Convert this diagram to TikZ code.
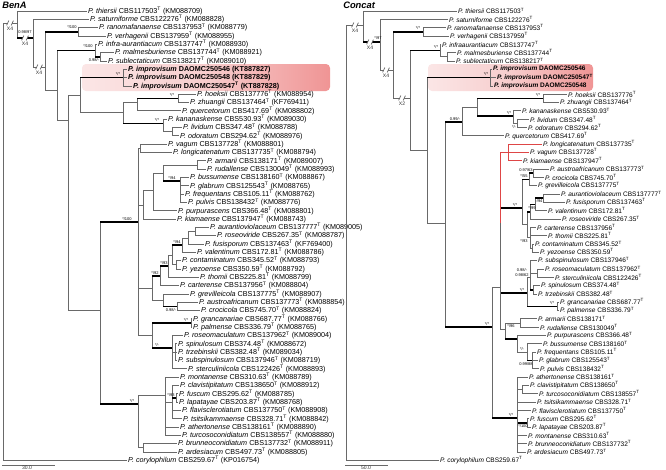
\documentclass[tikz,border=0pt]{standalone}
\usepackage{fontspec}
\setmainfont{Liberation Sans}
\definecolor{branchgray}{RGB}{105,105,105}
\definecolor{cladered}{RGB}{222,70,70}
\definecolor{boxmid}{RGB}{247,205,205}
\definecolor{boxred}{RGB}{232,92,92}
\pgfdeclarehorizontalshading{pinkfade}{100bp}{color(0bp)=(white); color(50bp)=(boxmid); color(100bp)=(boxred)}
\newcommand{\pen}[1]{\textit{P. #1}}
\newcommand{\typ}{\textsuperscript{T}}
\newcommand{\lf}[4]{\node[leaf] (#1) at (#2-1.2,{11+(#3-1)*8.32}) {#4};}
\newcommand{\lfc}[4]{\node[leaf, leafc] (#1) at (#2-1.2,{11+(#3-1)*8.32}) {#4};}
\newcommand{\lk}[2]{\draw[br] (#1) |- (#2);}
\newcommand{\slk}[2]{\draw[br] (#1) |- (#2); \draw[sup] (#1 |- #2) -- (#2);}
\newcommand{\rlk}[2]{\draw[redbr] (#1) |- (#2);}
\newcommand{\brk}[3]{\fill[white] (#1-2.4,#2-3) rectangle (#1+2.4,#2+3);
  \draw[br] (#1-3.4,#2+2.4) -- (#1-1.2,#2-2.4) (#1+1.2,#2+2.4) -- (#1+3.4,#2-2.4);
  \node[xlab] at (#1,#2+5.6) {#3};}

\begin{document}
\begin{tikzpicture}[x=0.75pt, y=-0.75pt, line cap=butt,
  br/.style={draw=branchgray, line width=0.55pt},
  redbr/.style={draw=cladered, line width=0.55pt},
  sup/.style={draw=black, line width=1.25pt},
  leaf/.style={anchor=west, inner xsep=0.8pt, inner ysep=0pt, font=\fontsize{5.4}{5.8}\selectfont},
  leafc/.style={font=\fontsize{4.9}{5.4}\selectfont},
  bs/.style={font=\fontsize{3}{3.2}\selectfont, inner sep=0pt},
  xlab/.style={font=\fontsize{3.8}{4}\selectfont, inner sep=0pt, text=black!80},
  treetitle/.style={anchor=west, inner sep=0pt, font=\fontsize{7}{8}\selectfont\bfseries\itshape}]

\useasboundingbox (0,0) rectangle (666,469);

% Highlight of the new species
\shade[shading=pinkfade, rounded corners=3pt] (82,64) rectangle (330,91);
\shade[shading=pinkfade, rounded corners=3pt] (428,64) rectangle (593,91);

% ---------------- BenA ----------------
\node[treetitle] (tBenA) at (2,5) {BenA};

\lf{b-thiersii}{88}{1}{\pen{thiersii} CBS117503\typ{} (KM088709)}
\lf{b-saturniforme}{90}{2}{\pen{saturniforme} CBS122276\typ{} (KM088828)}
\lf{b-ranomafanaense}{99}{3}{\pen{ranomafanaense} CBS137953\typ{} (KM088779)}
\lf{b-verhagenii}{107}{4}{\pen{verhagenii} CBS137959\typ{} (KM088955)}
\lf{b-infra}{98}{5}{\pen{infra-aurantiacum} CBS137747\typ{} (KM088930)}
\lf{b-malmesburiense}{115}{6}{\pen{malmesburiense} CBS137744\typ{} (KM088921)}
\lf{b-sublectaticum}{108}{7}{\pen{sublectaticum} CBS138217\typ{} (KM089010)}
\lf{b-imp546}{128}{8}{\textbf{\pen{improvisum} DAOMC250546 (KT887827)}}
\lf{b-imp548}{128}{9}{\textbf{\pen{improvisum} DAOMC250548 (KT887829)}}
\lf{b-imp547}{133}{10}{\textbf{\pen{improvisum} DAOMC250547\typ{} (KT887828)}}
\lf{b-hoeksii}{197}{11}{\pen{hoeksii} CBS137776\typ{} (KM088954)}
\lf{b-zhuangii}{190}{12}{\pen{zhuangii} CBS137464\typ{} (KF769411)}
\lf{b-quercetorum}{182}{13}{\pen{quercetorum} CBS417.69\typ{} (KM088802)}
\lf{b-kananaskense}{168}{14}{\pen{kananaskense} CBS530.93\typ{} (KM089030)}
\lf{b-lividum}{183}{15}{\pen{lividum} CBS347.48\typ{} (KM088788)}
\lf{b-odoratum}{180}{16}{\pen{odoratum} CBS294.62\typ{} (KM088976)}
\lf{b-vagum}{168}{17}{\pen{vagum} CBS137728\typ{} (KM088801)}
\lf{b-longicatenatum}{173}{18}{\pen{longicatenatum} CBS137735\typ{} (KM088794)}
\lf{b-armarii}{207}{19}{\pen{armarii} CBS138171\typ{} (KM089007)}
\lf{b-rudallense}{207}{20}{\pen{rudallense} CBS130049\typ{} (KM088993)}
\lf{b-bussumense}{190}{21}{\pen{bussumense} CBS138160\typ{} (KM088867)}
\lf{b-glabrum}{190}{22}{\pen{glabrum} CBS125543\typ{} (KM088765)}
\lf{b-frequentans}{185}{23}{\pen{frequentans} CBS105.11\typ{} (KM088762)}
\lf{b-pulvis}{188}{24}{\pen{pulvis} CBS138432\typ{} (KM088776)}
\lf{b-purpurascens}{178}{25}{\pen{purpurascens} CBS366.48\typ{} (KM088801)}
\lf{b-kiamaense}{177}{26}{\pen{kiamaense} CBS137947\typ{} (KM088743)}
\lf{b-aurantioviolaceum}{210}{27}{\pen{aurantioviolaceum} CBS137777\typ{} (KM089005)}
\lf{b-roseoviride}{217}{28}{\pen{roseoviride} CBS267.35\typ{} (KM088787)}
\lf{b-fusisporum}{205}{29}{\pen{fusisporum} CBS137463\typ{} (KF769400)}
\lf{b-valentinum}{197}{30}{\pen{valentinum} CBS172.81\typ{} (KM088786)}
\lf{b-contaminatum}{182}{31}{\pen{contaminatum} CBS345.52\typ{} (KM088793)}
\lf{b-yezoense}{182}{32}{\pen{yezoense} CBS350.59\typ{} (KM088792)}
\lf{b-thomii}{200}{33}{\pen{thomii} CBS225.81\typ{} (KM088799)}
\lf{b-carterense}{180}{34}{\pen{carterense} CBS137956\typ{} (KM088804)}
\lf{b-grevilleicola}{190}{35}{\pen{grevilleicola} CBS137775\typ{} (KM088907)}
\lf{b-austroafricanum}{199}{36}{\pen{austroafricanum} CBS137773\typ{} (KM088854)}
\lf{b-crocicola}{201}{37}{\pen{crocicola} CBS745.70\typ{} (KM088824)}
\lf{b-grancanariae}{193}{38}{\pen{grancanariae} CBS687.77\typ{} (KM088766)}
\lf{b-palmense}{193}{39}{\pen{palmense} CBS336.79\typ{} (KM088765)}
\lf{b-roseomaculatum}{184}{40}{\pen{roseomaculatum} CBS137962\typ{} (KM089004)}
\lf{b-spinulosum}{178}{41}{\pen{spinulosum} CBS374.48\typ{} (KM088672)}
\lf{b-trzebinskii}{178}{42}{\pen{trzebinskii} CBS382.48\typ{} (KM089034)}
\lf{b-subspinulosum}{178}{43}{\pen{subspinulosum} CBS137946\typ{} (KM088719)}
\lf{b-sterculiniicola}{188}{44}{\pen{sterculiniicola} CBS122426\typ{} (KM088893)}
\lf{b-montanense}{180}{45}{\pen{montanense} CBS310.63\typ{} (KM088789)}
\lf{b-clavistipitatum}{180}{46}{\pen{clavistipitatum} CBS138650\typ{} (KM088912)}
\lf{b-fuscum}{179}{47}{\pen{fuscum} CBS295.62\typ{} (KM088785)}
\lf{b-lapatayae}{179}{48}{\pen{lapatayae} CBS203.87\typ{} (KM088768)}
\lf{b-flavisclerotiatum}{182}{49}{\pen{flavisclerotiatum} CBS137750\typ{} (KM088908)}
\lf{b-tsitsikammaense}{183}{50}{\pen{tsitsikammaense} CBS328.71\typ{} (KM088842)}
\lf{b-athertonense}{180}{51}{\pen{athertonense} CBS138161\typ{} (KM088890)}
\lf{b-turcosoconidiatum}{182}{52}{\pen{turcosoconidiatum} CBS138557\typ{} (KM088880)}
\lf{b-brunneoconidiatum}{178}{53}{\pen{brunneoconidiatum} CBS137732\typ{} (KM088911)}
\lf{b-ardesiacum}{178}{54}{\pen{ardesiacum} CBS497.73\typ{} (KM088805)}
\lf{b-corylophilum}{128}{55}{\pen{corylophilum} CBS259.67\typ{} (KP016754)}

% internal nodes
\coordinate (bR) at (3,23);
\coordinate (bN1) at (17,23);
\coordinate (bN2) at (33,38);
\coordinate (bN3) at (45,67);
\coordinate (bA) at (78,31.8);
\coordinate (bN4) at (57,90);
\coordinate (bIN) at (95,50.5);
\coordinate (bMS) at (100,56.8);
\coordinate (bN5) at (68,120);
\coordinate (bN5a) at (80,95);
\coordinate (bIMP) at (123,77.6);
\coordinate (bK1) at (123,112);
\coordinate (bHQ) at (137,102);
\coordinate (bHZ) at (178,98.4);
\coordinate (bKL) at (163,123.5);
\coordinate (bLO) at (172,131.7);
\coordinate (bN6) at (100,310);
\coordinate (bB1) at (138,222);
\coordinate (bC0) at (140,148.3);
\coordinate (bP3) at (143,205);
\coordinate (bP2) at (153,190);
\coordinate (bP1) at (163,173);
\coordinate (bAR) at (197,165);
\coordinate (bBG) at (180,181);
\coordinate (bDG) at (152,288);
\coordinate (bDC) at (160,276);
\coordinate (bDT) at (168,266);
\coordinate (bDD) at (172,255);
\coordinate (bAFV) at (182,245);
\coordinate (bAF) at (188,238);
\coordinate (bAV) at (195,231.5);
\coordinate (bCY) at (176,264.8);
\coordinate (bGC) at (163,300);
\coordinate (bAC) at (177,306.4);
\coordinate (bE) at (152,335);
\coordinate (bGP) at (191,323);
\coordinate (bRS) at (172,348);
\coordinate (bST) at (175,352.1);
\coordinate (bB2) at (138,404);
\coordinate (bM1) at (165,395);
\coordinate (bM2) at (172,402);
\coordinate (bFL) at (176,397.9);
\coordinate (bBA) at (143,447.8);

% branches
\draw[br] (bR) -- (bN1);
\lk{bR}{b-corylophilum.west}
\lk{bN1}{b-thiersii.west}
\slk{bN1}{bN2}
\lk{bN2}{b-saturniforme.west}
\lk{bN2}{bN3}
\slk{bN3}{bA}
\lk{bA}{b-ranomafanaense.west}
\lk{bA}{b-verhagenii.west}
\lk{bN3}{bN4}
\slk{bN4}{bIN}
\lk{bIN}{b-infra.west}
\slk{bIN}{bMS}
\lk{bMS}{b-malmesburiense.west}
\lk{bMS}{b-sublectaticum.west}
\lk{bN4}{bN5}
\lk{bN5}{bN5a}
\slk{bN5a}{bIMP}
\lk{bIMP}{b-imp546.west}
\lk{bIMP}{b-imp548.west}
\lk{bIMP}{b-imp547.west}
\lk{bN5a}{bK1}
\lk{bK1}{bHQ}
\slk{bHQ}{bHZ}
\lk{bHZ}{b-hoeksii.west}
\lk{bHZ}{b-zhuangii.west}
\lk{bHQ}{b-quercetorum.west}
\slk{bK1}{bKL}
\lk{bKL}{b-kananaskense.west}
\lk{bKL}{bLO}
\lk{bLO}{b-lividum.west}
\lk{bLO}{b-odoratum.west}
\lk{bN5}{bN6}
\slk{bN6}{bB1}
\lk{bB1}{bC0}
\lk{bC0}{b-vagum.west}
\lk{bC0}{b-longicatenatum.west}
\lk{bB1}{bP3}
\lk{bP3}{bP2}
\lk{bP3}{b-kiamaense.west}
\lk{bP2}{bP1}
\lk{bP2}{b-purpurascens.west}
\lk{bP1}{bAR}
\lk{bAR}{b-armarii.west}
\lk{bAR}{b-rudallense.west}
\slk{bP1}{bBG}
\lk{bBG}{b-bussumense.west}
\lk{bBG}{b-glabrum.west}
\lk{bBG}{b-frequentans.west}
\lk{bBG}{b-pulvis.west}
\lk{bB1}{bDG}
\slk{bDG}{bDC}
\lk{bDC}{b-carterense.west}
\slk{bDC}{bDT}
\lk{bDT}{b-thomii.west}
\lk{bDT}{bDD}
\slk{bDD}{bAFV}
\lk{bAFV}{b-valentinum.west}
\lk{bAFV}{bAF}
\lk{bAF}{b-fusisporum.west}
\lk{bAF}{bAV}
\lk{bAV}{b-aurantioviolaceum.west}
\lk{bAV}{b-roseoviride.west}
\lk{bDD}{bCY}
\lk{bCY}{b-contaminatum.west}
\lk{bCY}{b-yezoense.west}
\lk{bDG}{bGC}
\lk{bGC}{b-grevilleicola.west}
\slk{bGC}{bAC}
\lk{bAC}{b-austroafricanum.west}
\lk{bAC}{b-crocicola.west}
\lk{bB1}{bE}
\slk{bE}{bGP}
\lk{bGP}{b-grancanariae.west}
\lk{bGP}{b-palmense.west}
\slk{bE}{bRS}
\lk{bRS}{b-roseomaculatum.west}
\lk{bRS}{bST}
\lk{bST}{b-spinulosum.west}
\lk{bST}{b-trzebinskii.west}
\lk{bST}{b-subspinulosum.west}
\lk{bRS}{b-sterculiniicola.west}
\slk{bN6}{bB2}
\lk{bB2}{bM1}
\lk{bM1}{b-montanense.west}
\lk{bM1}{bM2}
\lk{bM2}{b-clavistipitatum.west}
\slk{bM2}{bFL}
\lk{bFL}{b-fuscum.west}
\lk{bFL}{b-lapatayae.west}
\lk{bM2}{b-flavisclerotiatum.west}
\lk{bM2}{b-tsitsikammaense.west}
\lk{bM1}{b-athertonense.west}
\lk{bM1}{b-turcosoconidiatum.west}
\lk{bB2}{bBA}
\lk{bBA}{b-brunneoconidiatum.west}
\lk{bBA}{b-ardesiacum.west}

% long branches cut short
\brk{10}{23}{X4}
\brk{25}{38}{X4}
\brk{39}{67}{X4}

% support values
\node[bs] at (25,32.5) {0.98/97};
\node[bs] at (72,27.5) {*/100};
\node[bs] at (88,46) {*/100};
\node[bs] at (94,60.5) {0.98/-};
\node[bs] at (118,74) {*/*};
\node[bs] at (172,95) {*/*};
\node[bs] at (157,120) {*/*};
\node[bs] at (127,219) {*/100};
\node[bs] at (172,178) {*/94};
\node[bs] at (177,242) {*/94};
\node[bs] at (164,263) {*/93};
\node[bs] at (155,273) {*/92};
\node[bs] at (171,310) {0.98/-};
\node[bs] at (186,320) {*/*};
\node[bs] at (157,345) {*/-};
\node[bs] at (171,395) {*/93};
\node[bs] at (132,401) {*/*};

% scale bar
\draw[br] (2,465) -- (55,465);
\node[xlab] (bScale) at (27,467.5) {30.0};

% ---------------- Concat ----------------
\node[treetitle] (tConcat) at (343,5) {Concat};

\lfc{c-thiersii}{458}{1}{\pen{thiersii} CBS117503\typ}
\lfc{c-saturniforme}{449}{2}{\pen{saturniforme} CBS122276\typ}
\lfc{c-ranomafanaense}{447}{3}{\pen{ranomafanaense} CBS137953\typ}
\lfc{c-verhagenii}{450}{4}{\pen{verhagenii} CBS137959\typ}
\lfc{c-infra}{442}{5}{\pen{infraaurantiacum} CBS137747\typ}
\lfc{c-malmesburiense}{457}{6}{\pen{malmesburiense} CBS137744\typ}
\lfc{c-sublectaticum}{456}{7}{\pen{sublectaticum} CBS138217\typ}
\lfc{c-imp546}{493}{8}{\textbf{\pen{improvisum} DAOMC250546}}
\lfc{c-imp547}{497}{9}{\textbf{\pen{improvisum} DAOMC250547\typ}}
\lfc{c-imp548}{494}{10}{\textbf{\pen{improvisum} DAOMC250548}}
\lfc{c-hoeksii}{568}{11}{\pen{hoeksii} CBS137776\typ}
\lfc{c-zhuangii}{560}{12}{\pen{zhuangii} CBS137464\typ}
\lfc{c-kananaskense}{522}{13}{\pen{kananaskense} CBS530.93\typ}
\lfc{c-lividum}{530}{14}{\pen{lividum} CBS347.48\typ}
\lfc{c-odoratum}{528}{15}{\pen{odoratum} CBS294.62\typ}
\lfc{c-quercetorum}{505}{16}{\pen{quercetorum} CBS417.69\typ}
\lfc{c-longicatenatum}{543}{17}{\pen{longicatenatum} CBS137735\typ}
\lfc{c-vagum}{530}{18}{\pen{vagum} CBS137728\typ}
\lfc{c-kiamaense}{523}{19}{\pen{kiamaense} CBS137947\typ}
\lfc{c-austroafricanum}{550}{20}{\pen{austroafricanum} CBS137773\typ}
\lfc{c-crocicola}{545}{21}{\pen{crocicola} CBS745.70\typ}
\lfc{c-grevilleicola}{538}{22}{\pen{grevilleicola} CBS137775\typ}
\lfc{c-aurantioviolaceum}{561}{23}{\pen{aurantioviolaceum} CBS137777\typ}
\lfc{c-fusisporum}{566}{24}{\pen{fusisporum} CBS137463\typ}
\lfc{c-valentinum}{548}{25}{\pen{valentinum} CBS172.81\typ}
\lfc{c-roseoviride}{562}{26}{\pen{roseoviride} CBS267.35\typ}
\lfc{c-carterense}{537}{27}{\pen{carterense} CBS137956\typ}
\lfc{c-thomii}{548}{28}{\pen{thomii} CBS225.81\typ}
\lfc{c-contaminatum}{535}{29}{\pen{contaminatum} CBS345.52\typ}
\lfc{c-yezoense}{540}{30}{\pen{yezoense} CBS350.59\typ}
\lfc{c-subspinulosum}{538}{31}{\pen{subspinulosum} CBS137946\typ}
\lfc{c-roseomaculatum}{545}{32}{\pen{roseomaculatum} CBS137962\typ}
\lfc{c-sterculiniicola}{555}{33}{\pen{sterculiniicola} CBS122426\typ}
\lfc{c-spinulosum}{541}{34}{\pen{spinulosum} CBS374.48\typ}
\lfc{c-trzebinskii}{538}{35}{\pen{trzebinskii} CBS382.48\typ}
\lfc{c-grancanariae}{560}{36}{\pen{grancanariae} CBS687.77\typ}
\lfc{c-palmense}{560}{37}{\pen{palmense} CBS336.79\typ}
\lfc{c-armarii}{538}{38}{\pen{armarii} CBS138171\typ}
\lfc{c-rudallense}{540}{39}{\pen{rudallense} CBS130049\typ}
\lfc{c-purpurascens}{547}{40}{\pen{purpurascens} CBS366.48\typ}
\lfc{c-bussumense}{543}{41}{\pen{bussumense} CBS138160\typ}
\lfc{c-frequentans}{537}{42}{\pen{frequentans} CBS105.11\typ}
\lfc{c-glabrum}{539}{43}{\pen{glabrum} CBS125543\typ}
\lfc{c-pulvis}{540}{44}{\pen{pulvis} CBS138432\typ}
\lfc{c-athertonense}{529}{45}{\pen{athertonense} CBS138161\typ}
\lfc{c-clavistipitatum}{530}{46}{\pen{clavistipitatum} CBS138650\typ}
\lfc{c-turcosoconidiatum}{539}{47}{\pen{turcosoconidiatum} CBS138557\typ}
\lfc{c-tsitsikammaense}{537}{48}{\pen{tsitsikammaense} CBS328.71\typ}
\lfc{c-flavisclerotiatum}{532}{49}{\pen{flavisclerotiatum} CBS137750\typ}
\lfc{c-fuscum}{530}{50}{\pen{fuscum} CBS295.62\typ}
\lfc{c-lapatayae}{532}{51}{\pen{lapatayae} CBS203.87\typ}
\lfc{c-montanense}{528}{52}{\pen{montanense} CBS310.63\typ}
\lfc{c-brunneoconidiatum}{528}{53}{\pen{brunneoconidiatum} CBS137732\typ}
\lfc{c-ardesiacum}{527}{54}{\pen{ardesiacum} CBS497.73\typ}
\lfc{c-corylophilum}{440}{55}{\pen{corylophilum} CBS259.67\typ}

% internal nodes
\coordinate (cR) at (346,25);
\coordinate (cN1) at (363,25);
\coordinate (cN2) at (380,42);
\coordinate (cN3) at (393,70);
\coordinate (cA) at (423,31.8);
\coordinate (cN4) at (410,98);
\coordinate (cIN) at (440,50.5);
\coordinate (cMS) at (447,56.8);
\coordinate (cN5) at (427,150);
\coordinate (cIMP) at (490,77.6);
\coordinate (cN7) at (445,223);
\coordinate (cHKQ) at (462,122);
\coordinate (cHK) at (477,107);
\coordinate (cHZ) at (543,98.4);
\coordinate (cKL) at (513,116);
\coordinate (cLO) at (517,123.3);
\coordinate (cN8) at (492,327);
\coordinate (cX) at (500,287);
\coordinate (cXr) at (500,223);
\coordinate (cLVK) at (508,152.4);
\coordinate (cDD) at (522,208);
\coordinate (cD1) at (529,179.5);
\coordinate (cAC) at (533,173.3);
\coordinate (cD2) at (527,224.6);
\coordinate (cAFVR) at (530,211.7);
\coordinate (cAFV) at (535,204.5);
\coordinate (cAFu) at (543,198.2);
\coordinate (cCT) at (530,237.5);
\coordinate (cCY) at (532,248.2);
\coordinate (cE1) at (527,293);
\coordinate (cES) at (530,277);
\coordinate (cRS) at (537,273);
\coordinate (cST) at (533,289.7);
\coordinate (cGP) at (557,306.4);
\coordinate (cAP) at (505,329);
\coordinate (cAR) at (520,323);
\coordinate (cPB) at (517,339);
\coordinate (cBF) at (527,352);
\coordinate (cFGP) at (532,360.4);
\coordinate (cAA) at (517,418);
\coordinate (cCTT) at (522,389.5);
\coordinate (cFL) at (527,422.9);

% branches
\draw[br] (cR) -- (cN1);
\lk{cR}{c-corylophilum.west}
\lk{cN1}{c-thiersii.west}
\slk{cN1}{cN2}
\lk{cN2}{c-saturniforme.west}
\lk{cN2}{cN3}
\slk{cN3}{cA}
\lk{cA}{c-ranomafanaense.west}
\lk{cA}{c-verhagenii.west}
\lk{cN3}{cN4}
\slk{cN4}{cIN}
\lk{cIN}{c-infra.west}
\lk{cIN}{cMS}
\lk{cMS}{c-malmesburiense.west}
\lk{cMS}{c-sublectaticum.west}
\lk{cN4}{cN5}
\slk{cN5}{cIMP}
\lk{cIMP}{c-imp546.west}
\lk{cIMP}{c-imp547.west}
\lk{cIMP}{c-imp548.west}
\lk{cN5}{cN7}
\slk{cN7}{cHKQ}
\lk{cHKQ}{cHK}
\slk{cHK}{cHZ}
\lk{cHZ}{c-hoeksii.west}
\lk{cHZ}{c-zhuangii.west}
\slk{cHK}{cKL}
\lk{cKL}{c-kananaskense.west}
\lk{cKL}{cLO}
\lk{cLO}{c-lividum.west}
\lk{cLO}{c-odoratum.west}
\lk{cHKQ}{c-quercetorum.west}
\slk{cN7}{cN8}
\lk{cN8}{cX}
\slk{cX}{cDD}
\slk{cDD}{cD1}
\lk{cD1}{c-grevilleicola.west}
\slk{cD1}{cAC}
\lk{cAC}{c-austroafricanum.west}
\lk{cAC}{c-crocicola.west}
\lk{cDD}{cD2}
\slk{cD2}{cAFVR}
\slk{cAFVR}{cAFV}
\lk{cAFVR}{c-roseoviride.west}
\slk{cAFV}{cAFu}
\lk{cAFV}{c-valentinum.west}
\lk{cAFu}{c-aurantioviolaceum.west}
\lk{cAFu}{c-fusisporum.west}
\lk{cD2}{cCT}
\lk{cCT}{c-carterense.west}
\lk{cCT}{c-thomii.west}
\lk{cCT}{cCY}
\lk{cCY}{c-contaminatum.west}
\lk{cCY}{c-yezoense.west}
\slk{cX}{cE1}
\lk{cE1}{cES}
\lk{cES}{c-subspinulosum.west}
\lk{cES}{cRS}
\lk{cRS}{c-roseomaculatum.west}
\lk{cRS}{c-sterculiniicola.west}
\slk{cES}{cST}
\lk{cST}{c-spinulosum.west}
\lk{cST}{c-trzebinskii.west}
\slk{cE1}{cGP}
\lk{cGP}{c-grancanariae.west}
\lk{cGP}{c-palmense.west}
\lk{cX}{cAP}
\lk{cAP}{cAR}
\lk{cAR}{c-armarii.west}
\lk{cAR}{c-rudallense.west}
\slk{cAP}{cPB}
\lk{cPB}{c-purpurascens.west}
\lk{cPB}{cBF}
\lk{cBF}{c-bussumense.west}
\slk{cBF}{cFGP}
\lk{cFGP}{c-frequentans.west}
\lk{cFGP}{c-glabrum.west}
\lk{cFGP}{c-pulvis.west}
\slk{cN8}{cAA}
\lk{cAA}{c-athertonense.west}
\lk{cAA}{cCTT}
\lk{cCTT}{c-clavistipitatum.west}
\lk{cCTT}{c-turcosoconidiatum.west}
\lk{cAA}{c-tsitsikammaense.west}
\lk{cAA}{c-flavisclerotiatum.west}
\slk{cAA}{cFL}
\lk{cFL}{c-fuscum.west}
\lk{cFL}{c-lapatayae.west}
\lk{cAA}{c-montanense.west}
\lk{cAA}{c-brunneoconidiatum.west}
\lk{cAA}{c-ardesiacum.west}

% lineage in red
\draw[br] (cX) -- (cXr);
\rlk{cXr}{cLVK}
\rlk{cLVK}{c-longicatenatum.west}
\rlk{cLVK}{c-vagum.west}
\rlk{cLVK}{c-kiamaense.west}

% long branches cut short
\brk{355}{25}{X4}
\brk{370}{42}{X4}
\brk{386}{70}{X4}
\brk{402}{98}{X2}

% support values
\node[bs] at (378,38) {*/97};
\node[bs] at (418,28.5) {*/*};
\node[bs] at (436,47) {*/*};
\node[bs] at (486,74) {*/*};
\node[bs] at (538,95) {*/*};
\node[bs] at (509,113) {*/*};
\node[bs] at (514,127) {*/-};
\node[bs] at (455,119) {0.99/-};
\node[bs] at (526,170) {0.97/63};
\node[bs] at (524,176.5) {*/55};
\node[bs] at (515,205) {*/*};
\node[bs] at (539,201) {-/94};
\node[bs] at (532,208.5) {*/99};
\node[bs] at (524,241) {*/93};
\node[bs] at (522,270) {0.98/-};
\node[bs] at (522,275.5) {0.98/62};
\node[bs] at (522,290) {*/*};
\node[bs] at (552,303) {*/*};
\node[bs] at (487,324) {*/*};
\node[bs] at (511,326) {*/96};
\node[bs] at (522,349) {*/-};
\node[bs] at (526,364) {0.99/88};
\node[bs] at (511,415) {*/*};
\node[bs] at (523,426) {*/100};

% scale bar
\draw[br] (345,465) -- (388,465);
\node[xlab] (cScale) at (366,467.5) {50.0};

\end{tikzpicture}
\end{document}
